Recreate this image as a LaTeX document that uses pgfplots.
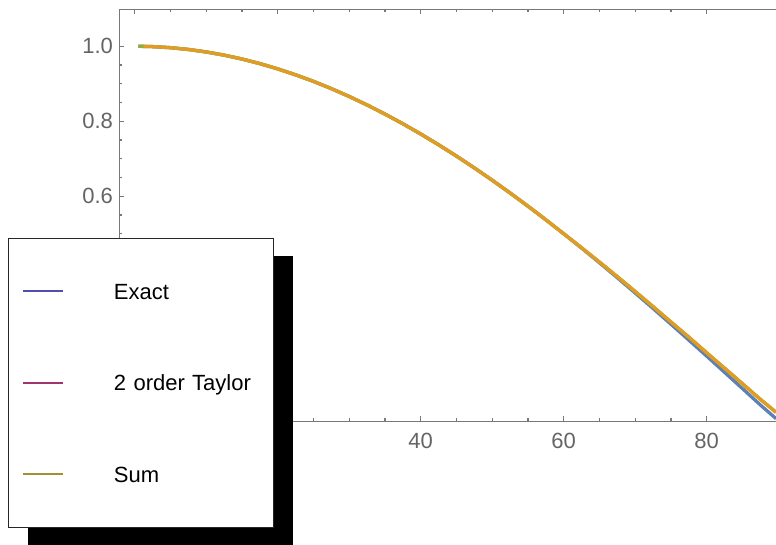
\documentclass[border=0pt]{standalone}
\usepackage{fontspec}
\setmainfont{Liberation Sans}
\usepackage{pgfplots}
\pgfplotsset{compat=1.18}
\usetikzlibrary{shadows}
\makeatletter
\tikzset{no preactions/.code={\let\tikz@preactions\pgfutil@empty}}
\makeatother
\definecolor{mblue}{RGB}{94,129,181}
\definecolor{morange}{RGB}{225,156,36}
\definecolor{mgreen}{RGB}{143,176,50}
\definecolor{lexact}{RGB}{80,80,172}
\definecolor{ltaylor}{RGB}{160,52,108}
\definecolor{lsum}{RGB}{166,142,50}
\definecolor{axisgray}{RGB}{120,120,120}
\definecolor{labgray}{RGB}{100,100,100}
\begin{document}
\begin{tikzpicture}
\path[use as bounding box] (0pt,0pt) rectangle (776pt,545pt);
\begin{axis}[
  at={(119.5pt,123.7pt)}, anchor=south west,
  scale only axis, width=656.5pt, height=411.8pt,
  xmin=-2.13, xmax=89.69, ymin=0, ymax=1.098,
  axis x line=box, axis y line*=left,
  xtick={0,20,40,60,80}, ytick={0,0.2,0.4,0.6,0.8,1.0},
  minor x tick num=3, minor y tick num=3,
  tick align=inside,
  major tick length=5pt, minor tick length=3pt,
  xticklabel pos=lower,
  axis line style={axisgray, line width=1.1pt},
  every tick/.append style={axisgray, line width=1.1pt},
  tick label style={font=\fontsize{22}{26}\selectfont, text=labgray},
  /pgf/number format/assume math mode=true,
  yticklabel style={xshift=-3pt, /pgf/number format/.cd, fixed, fixed zerofill, precision=1},
  xticklabel style={yshift=-8pt},
  legend image code/.code={\draw[no preactions, #1] (0pt,0pt) -- (40pt,0pt);},
  legend style={at={(-0.1691,-0.2584)}, anchor=south west,
    draw=black!85, line width=1pt, fill=white,
    inner xsep=13pt, inner ysep=45pt, row sep=75.5pt, column sep=50pt,
    font=\fontsize{22}{26}\selectfont, cells={anchor=west},
    nodes={inner sep=0pt, text height=16pt, text depth=0pt, text width=147pt},
    drop shadow={shadow xshift=19pt, shadow yshift=-18pt, fill=black, opacity=1, draw=none}},
]
% Exact
\addplot[mblue, line width=3.3pt, forget plot] coordinates {
(0.5,0.99996) (2.5,0.99905) (5,0.99619) (7.5,0.99144) (10,0.98481) (12.5,0.97630)
(15,0.96593) (17.5,0.95372) (20,0.93969) (22.5,0.92388) (25,0.90631) (27.5,0.88701)
(30,0.86603) (32.5,0.84339) (35,0.81915) (37.5,0.79335) (40,0.76604) (42.5,0.73728)
(45,0.70711) (47.5,0.67559) (50,0.64279) (52.5,0.60876) (55,0.57358) (57.5,0.53730)
(60,0.50000) (62.5,0.46175) (65,0.42262) (67.5,0.38268) (70,0.34202) (72.5,0.30071)
(75,0.25882) (77.5,0.21644) (80,0.17365) (82.5,0.13053) (85,0.08716) (87.5,0.04362)
(89.7,0.00700)};
% 2 order Taylor
\addplot[mgreen, line width=3.3pt, forget plot] coordinates {
(0.5,0.99996) (2.5,0.99905) (5,0.99619) (7.5,0.99144) (10,0.98481) (12.5,0.97630)
(15,0.96593) (17.5,0.95372) (20,0.93969) (22.5,0.92388) (25,0.90631) (27.5,0.88701)
(30,0.86603) (32.5,0.84339) (35,0.81915) (37.5,0.79335) (40,0.76604) (42.5,0.73728)
(45,0.70711) (47.5,0.67559) (50,0.64279) (52.5,0.60876) (55,0.57358) (57.5,0.53730)
(60,0.50000) (62.5,0.46275) (65,0.42462) (67.5,0.38568) (70,0.34602) (72.5,0.30571)
(75,0.26482) (77.5,0.22444) (80,0.18265) (82.5,0.14153) (85,0.10016) (87.5,0.05862)
(89.7,0.02400)};
% Sum
\addplot[morange, line width=3.3pt, forget plot] coordinates {
(1.2,0.99978) (2.5,0.99905) (5,0.99619) (7.5,0.99144) (10,0.98481) (12.5,0.97630)
(15,0.96593) (17.5,0.95372) (20,0.93969) (22.5,0.92388) (25,0.90631) (27.5,0.88701)
(30,0.86603) (32.5,0.84339) (35,0.81915) (37.5,0.79335) (40,0.76604) (42.5,0.73728)
(45,0.70711) (47.5,0.67559) (50,0.64279) (52.5,0.60876) (55,0.57358) (57.5,0.53730)
(60,0.50000) (62.5,0.46275) (65,0.42462) (67.5,0.38568) (70,0.34602) (72.5,0.30571)
(75,0.26482) (77.5,0.22444) (80,0.18265) (82.5,0.14153) (85,0.10016) (87.5,0.05862)
(89.7,0.02400)};
\addlegendimage{lexact, line width=2pt}
\addlegendentry{Exact}
\addlegendimage{ltaylor, line width=2pt}
\addlegendentry{2 order Taylor}
\addlegendimage{lsum, line width=2pt}
\addlegendentry{Sum}
\end{axis}
\end{tikzpicture}
\end{document}
